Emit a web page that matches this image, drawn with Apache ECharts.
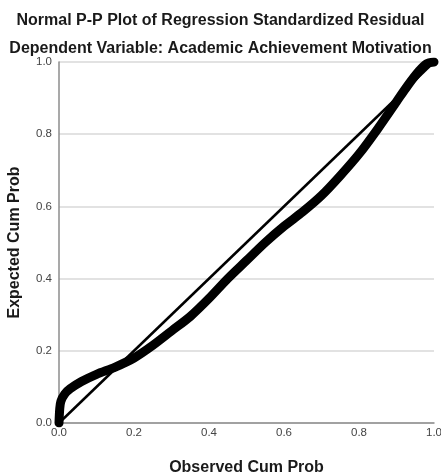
<!DOCTYPE html>
<html>
<head>
<meta charset="utf-8">
<script src="https://cdn.jsdelivr.net/npm/echarts@6/dist/echarts.min.js"></script>
<style>html,body{margin:0;padding:0;background:#fff}#c{width:441px;height:474px}</style>
</head>
<body>
<div id="c"></div>
<script>
const titleLines = ["Normal P-P Plot of Regression Standardized Residual", "Dependent Variable: Academic Achievement Motivation"];
const xAxisName = "Observed Cum Prob";
const yAxisName = "Expected Cum Prob";
const tickValues = [0, 0.2, 0.4, 0.6, 0.8, 1.0];
// observed cumulative probability
const observed = [0, 0.002, 0.005, 0.015, 0.03, 0.06, 0.1, 0.15, 0.2, 0.25, 0.3, 0.35, 0.4, 0.45, 0.5, 0.55, 0.6, 0.65, 0.7, 0.75, 0.8, 0.85, 0.9, 0.93, 0.96, 0.98, 1];
// expected cumulative probability
const expected = [0, 0.04, 0.06, 0.08, 0.095, 0.115, 0.135, 0.155, 0.18, 0.215, 0.255, 0.295, 0.345, 0.4, 0.45, 0.5, 0.545, 0.585, 0.63, 0.685, 0.745, 0.815, 0.89, 0.935, 0.975, 0.995, 1];
const diagonal = [[0, 0], [1, 1]];

const font = "'Liberation Sans', Arial, sans-serif";
const chart = echarts.init(document.getElementById('c'), null, {renderer: 'canvas'});
chart.setOption({
  animation: false,
  backgroundColor: '#fff',
  title: [
    {text: titleLines[0], left: 'center', top: 8, textStyle: {fontFamily: font, fontSize: 16, fontWeight: 'bold', color: '#1a1a1a'}},
    {text: titleLines[1], left: 'center', top: 36, textStyle: {fontFamily: font, fontSize: 16, fontWeight: 'bold', color: '#1a1a1a'}}
  ],
  grid: {left: 59, right: 7, top: 62, bottom: 51, containLabel: false, outerBoundsMode: 'none'},
  xAxis: {
    type: 'value', min: 0, max: 1, interval: 0.2,
    name: xAxisName, nameLocation: 'middle', nameGap: 37,
    nameTextStyle: {fontFamily: font, fontSize: 16, fontWeight: 'bold', color: '#1a1a1a'},
    axisLine: {show: true, lineStyle: {color: '#8c8c8c', width: 1.5}},
    axisTick: {show: false},
    splitLine: {show: false},
    axisLabel: {fontFamily: font, fontSize: 11.5, color: '#444', margin: 4, formatter: v => v.toFixed(1)}
  },
  yAxis: {
    type: 'value', min: 0, max: 1, interval: 0.2,
    name: yAxisName, nameLocation: 'middle', nameGap: 36,
    nameTextStyle: {fontFamily: font, fontSize: 16, fontWeight: 'bold', color: '#1a1a1a'},
    axisLine: {show: true, lineStyle: {color: '#8c8c8c', width: 1.5}},
    axisTick: {show: false},
    splitLine: {show: true, lineStyle: {color: '#d9d9d9', width: 1.5}},
    axisLabel: {fontFamily: font, fontSize: 11.5, color: '#444', margin: 7, formatter: v => v.toFixed(1)}
  },
  series: [
    {type: 'line', data: diagonal, symbol: 'none', lineStyle: {color: '#000', width: 2.5}, z: 3},
    {type: 'line', data: observed.map((x, i) => [x, expected[i]]), symbol: 'none', smooth: 0.3,
     lineStyle: {color: '#000', width: 9, cap: 'round', join: 'round'}, z: 4}
  ]
});
</script>
</body>
</html>
